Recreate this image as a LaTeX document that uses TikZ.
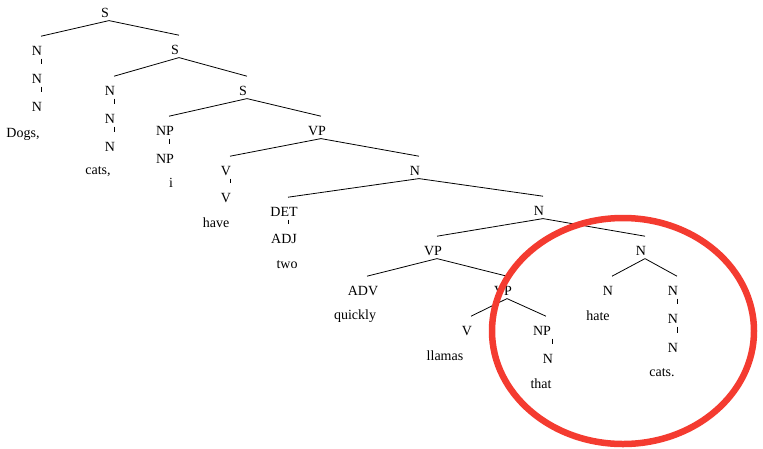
\documentclass[tikz,border=0pt]{standalone}
\usepackage{fontspec}
\setmainfont{Liberation Serif}
\usepackage{xcolor}
\usepackage{tikz}
\definecolor{markred}{RGB}{244,59,48}

\begin{document}
\begin{tikzpicture}[x=1pt, y=-1pt, every node/.style={font=\fontsize{14}{16}\selectfont, inner sep=0pt, anchor=base}, cat/.style={text height=18.6pt, text depth=3.4pt, execute at end node=\hspace{8pt}}, word/.style={}, br/.style={line width=0.8pt}, tie/.style={line width=0.8pt}, ring/.style={draw=markred, line width=6.5pt}]
\useasboundingbox (0,0) rectangle (763,448);
% category labels (anchor sits 4pt right of the text)
\node[cat] (s0) at (109,17) {S};
\node[cat] (n1a) at (41,55) {N}; \node[cat] (n1b) at (41,83) {N}; \node[cat] (n1c) at (41,111) {N};
\node[cat] (s1) at (179,54) {S};
\node[cat] (n2a) at (114,95) {N}; \node[cat] (n2b) at (114,123) {N}; \node[cat] (n2c) at (114,151) {N};
\node[cat] (s2) at (247,95) {S};
\node[cat] (np1) at (169,135) {NP}; \node[cat] (np2) at (169,163) {NP};
\node[cat] (vp1) at (321,135) {VP};
\node[cat] (v1) at (230,175) {V}; \node[cat] (v2) at (230,202) {V};
\node[cat] (n3) at (419,175) {N};
\node[cat] (det) at (288,216) {DET}; \node[cat] (adj) at (288,243) {ADJ};
\node[cat] (n4) at (543,215) {N};
\node[cat] (vp2) at (437,255) {VP};
\node[cat] (adv) at (367,295) {ADV};
\node[cat] (vp3) at (507,295) {VP};
\node[cat] (v3) at (471,335) {V};
\node[cat] (np3) at (546,335) {NP}; \node[cat] (n5) at (552,363) {N};
\node[cat] (n6) at (645,255) {N};
\node[cat] (n7) at (612,295) {N};
\node[cat] (n8a) at (677,295) {N}; \node[cat] (n8b) at (677,323) {N}; \node[cat] (n8c) at (677,352) {N};
% words
\node[word] (w1) at (23,137) {Dogs,};
\node[word] (w2) at (98,174) {cats,};
\node[word] (w3) at (171,187) {i};
\node[word] (w4) at (216,227) {have};
\node[word] (w5) at (287,268) {two};
\node[word] (w6) at (355,319) {quickly};
\node[word] (w7) at (445,360) {llamas};
\node[word] (w8) at (541,388) {that};
\node[word] (w9) at (598,320) {hate};
\node[word] (w10) at (662,376) {cats.};
% branches
\draw[br] (s0.south) -- (n1a.north); \draw[br] (s0.south) -- (s1.north);
\draw[br] (s1.south) -- (n2a.north); \draw[br] (s1.south) -- (s2.north);
\draw[br] (s2.south) -- (np1.north); \draw[br] (s2.south) -- (vp1.north);
\draw[br] (vp1.south) -- (v1.north); \draw[br] (vp1.south) -- (n3.north);
\draw[br] (n3.south) -- (det.north); \draw[br] (n3.south) -- (n4.north);
\draw[br] (n4.south) -- (vp2.north); \draw[br] (n4.south) -- (n6.north);
\draw[br] (vp2.south) -- (adv.north); \draw[br] (vp2.south) -- (vp3.north);
\draw[br] (vp3.south) -- (v3.north); \draw[br] (vp3.south) -- (np3.north);
\draw[br] (n6.south) -- (n7.north); \draw[br] (n6.south) -- (n8a.north);
% unary links
\draw[tie] (n1a.south) -- (n1b.north); \draw[tie] (n1b.south) -- (n1c.north);
\draw[tie] (n2a.south) -- (n2b.north); \draw[tie] (n2b.south) -- (n2c.north);
\draw[tie] (np1.south) -- (np2.north); \draw[tie] (v1.south) -- (v2.north);
\draw[tie] (det.south) -- (adj.north); \draw[tie] (n5 |- np3.south) -- (n5.north);
\draw[tie] (n8a.south) -- (n8b.north); \draw[tie] (n8b.south) -- (n8c.north);
% highlight
\draw[ring] (623,331) ellipse [x radius=131, y radius=113];
\end{tikzpicture}
\end{document}
